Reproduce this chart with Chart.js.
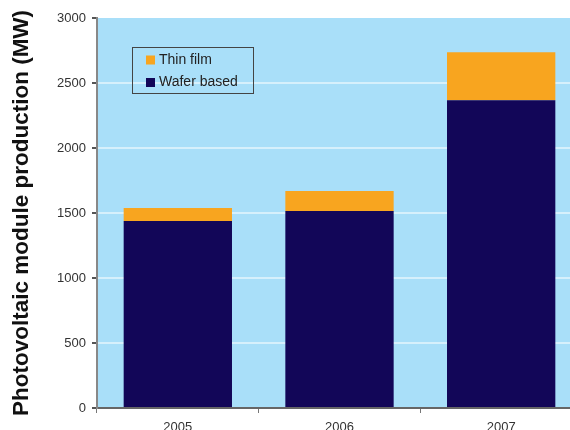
<!DOCTYPE html>
<html>
<head>
<script src="https://cdn.jsdelivr.net/npm/chart.js@4/dist/chart.umd.min.js"></script>
<style>
body { margin: 0; overflow: hidden; background: #fff; }
#wrap { width: 582px; height: 440px; }
</style>
</head>
<body>
<div id="wrap"><canvas id="pvChart" width="582" height="440"></canvas></div>

<script>
// values (MW)
var years = ["2005", "2006", "2007"];
var waferBased = [1438, 1515, 2368];
var thinFilm = [100, 154, 369];
var yTicks = [0, 500, 1000, 1500, 2000, 2500, 3000];

var plotBg = {
	id: "plotBg",
	beforeDraw: function(chart) {
		var a = chart.chartArea, ctx = chart.ctx;
		ctx.save();
		ctx.fillStyle = "#a9dff9";
		ctx.fillRect(a.left, a.top, a.right - a.left, a.bottom - a.top);
		ctx.restore();
	}
};

// legend box inside the plot, thin film listed first
var boxLegend = {
	id: "boxLegend",
	afterDraw: function(chart) {
		var ctx = chart.ctx;
		var items = chart.data.datasets.slice().reverse();
		ctx.save();
		ctx.strokeStyle = "#444";
		ctx.lineWidth = 1;
		ctx.strokeRect(132.5, 47.5, 121, 46);
		ctx.font = "14px 'Liberation Sans', Arial, sans-serif";
		ctx.textBaseline = "middle";
		items.forEach(function(ds, i) {
			var y = 60 + i * 22.5;
			ctx.fillStyle = ds.backgroundColor;
			ctx.fillRect(146, y - 4.5, 9, 9);
			ctx.fillStyle = "#222";
			ctx.fillText(ds.label, 159, y);
		});
		ctx.restore();
	}
};

new Chart("pvChart", {
	type: "bar",
	data: {
		labels: years,
		datasets: [{
			label: "Wafer based",
			data: waferBased,
			backgroundColor: "#120658",
			barPercentage: 0.67,
			categoryPercentage: 1
		}, {
			label: "Thin film",
			data: thinFilm,
			backgroundColor: "#f8a51f",
			barPercentage: 0.67,
			categoryPercentage: 1
		}]
	},
	options: {
		responsive: false,
		animation: false,
		layout: { padding: { top: 18, left: 0, right: 0, bottom: 0 } },
		plugins: {
			legend: { display: false },
			tooltip: { enabled: false }
		},
		scales: {
			x: {
				stacked: true,
				grid: { drawOnChartArea: false, drawTicks: true, tickLength: 5, color: "#777", offset: true },
				border: { color: "#666", width: 2 },
				ticks: { color: "#333", font: { family: "'Liberation Sans', Arial, sans-serif", size: 13 }, padding: 7 },
				afterFit: function(scale) { scale.height = 32; }
			},
			y: {
				stacked: true,
				min: 0,
				max: 3000,
				afterBuildTicks: function(scale) {
					scale.ticks = yTicks.map(function(v) { return { value: v }; });
				},
				grid: {
					color: function(c) { return c.tick && c.tick.value === 3000 ? "rgba(0,0,0,0)" : "#d6f0fc"; },
					lineWidth: 2,
					tickColor: "#555",
					tickLength: 5
				},
				border: { color: "#888", width: 2 },
				ticks: {
					color: "#333",
					font: { family: "'Liberation Sans', Arial, sans-serif", size: 13 },
					padding: 6,
					callback: function(v) { return String(v); }
				},
				title: {
					display: true,
					text: "Photovoltaic module production (MW)",
					color: "#111",
					font: { family: "'Liberation Sans', Arial, sans-serif", size: 22.5, weight: "bold" },
					padding: { top: 8, bottom: 4 }
				},
				afterFit: function(scale) { scale.width = 97; }
			}
		}
	},
	plugins: [plotBg, boxLegend]
});
</script>
</body>
</html>
